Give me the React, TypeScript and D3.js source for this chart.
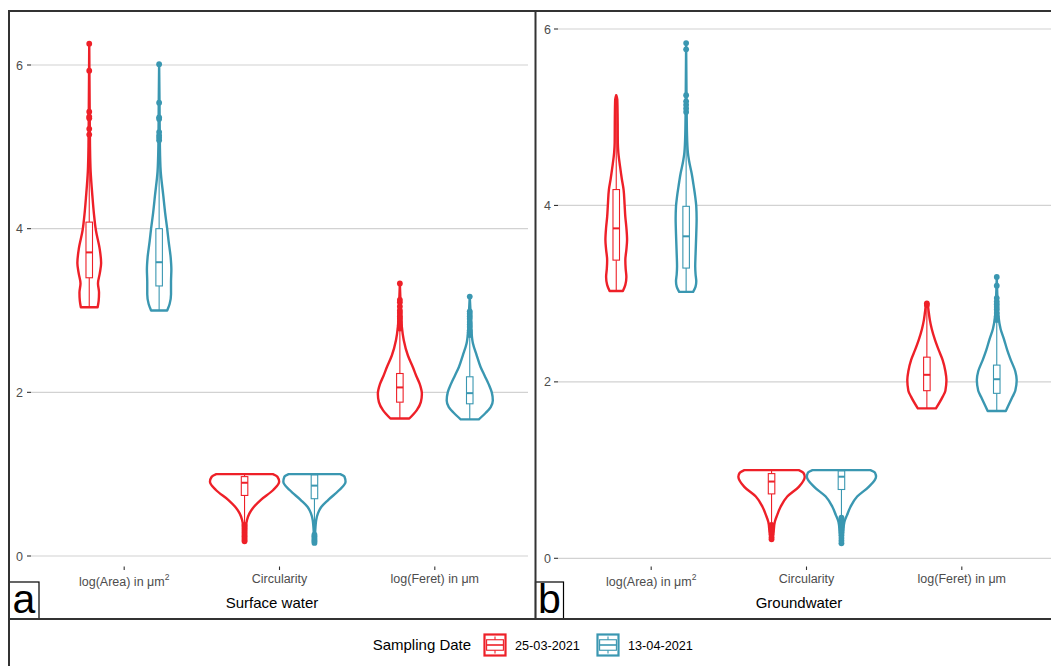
import React from "react";
import * as d3 from "d3";

// ---------- data ----------
const panelTitles = ["Surface water", "Groundwater"];
const panelLetters = ["a", "b"];
const categories = ["area", "circularity", "feret"];
const categoryLabels = ["log(Area) in μm", "Circularity", "log(Feret) in μm"];
const categorySup = ["2", "", ""];
const dateLabels = ["25-03-2021", "13-04-2021"];
const dateColors = ["#EE2028", "#3A97B1"];
const yTickValues = [0, 2, 4, 6];
const legendTitle = "Sampling Date";

// violin profiles: [value, relative half-width]
const swAreaRed: [number, number][] = [[3.04, .24], [3.12, .27], [3.22, .28], [3.33, .25], [3.45, .30], [3.58, .34], [3.75, .30], [3.98, .19], [4.2, .13], [4.4, .09], [4.7, .04], [5.0, .022], [5.5, .012], [6.26, 0]];
const swAreaTeal: [number, number][] = [[3.0, .23], [3.08, .30], [3.2, .34], [3.35, .34], [3.5, .35], [3.65, .33], [3.85, .27], [4.0, .23], [4.2, .17], [4.4, .12], [4.7, .045], [5.0, .022], [5.5, .012], [6.01, 0]];
const swCircRed: [number, number][] = [[0.175, .014], [0.25, .034], [0.358, .04], [0.44, .07], [0.521, .14], [0.602, .27], [0.684, .46], [0.806, .82], [0.907, .99], [0.968, .94], [1.0, .81]];
const swCircTeal: [number, number][] = [[0.16, .01], [0.358, .03], [0.44, .05], [0.521, .10], [0.602, .20], [0.684, .39], [0.806, .71], [0.907, .89], [0.968, .86], [1.0, .74]];
const swFeretRed: [number, number][] = [[1.68, .27], [1.78, .48], [1.88, .60], [1.98, .63], [2.1, .57], [2.2, .47], [2.31, .37], [2.45, .23], [2.64, .11], [2.8, .057], [3.0, .03], [3.33, 0]];
const swFeretTeal: [number, number][] = [[1.67, .26], [1.75, .46], [1.82, .60], [1.9, .66], [2.0, .63], [2.1, .54], [2.2, .43], [2.31, .31], [2.45, .20], [2.6, .09], [2.8, .04], [3.0, .02], [3.17, 0]];

const gwAreaRed: [number, number][] = [[3.03, .19], [3.1, .26], [3.19, .29], [3.28, .27], [3.38, .26], [3.5, .29], [3.61, .31], [3.75, .29], [3.87, .26], [4.0, .24], [4.18, .21], [4.3, .16], [4.44, .11], [4.6, .06], [4.71, .045], [5.0, .04], [5.2, .03], [5.25, 0]];
const gwAreaTeal: [number, number][] = [[3.02, .20], [3.08, .27], [3.14, .29], [3.22, .27], [3.31, .26], [3.45, .27], [3.68, .29], [3.85, .30], [3.99, .29], [4.1, .26], [4.21, .22], [4.36, .16], [4.5, .086], [4.6, .05], [4.8, .025], [5.2, .012], [5.84, 0]];
const gwCircRed: [number, number][] = [[0.215, .023], [0.3, .057], [0.415, .094], [0.49, .16], [0.585, .26], [0.70, .45], [0.81, .78], [0.925, .95], [0.97, .91], [1.0, .78]];
const gwCircTeal: [number, number][] = [[0.17, .014], [0.3, .05], [0.415, .086], [0.49, .16], [0.585, .26], [0.70, .45], [0.81, .78], [0.925, .99], [0.97, .96], [1.0, .83]];
const gwFeretRed: [number, number][] = [[1.70, .26], [1.83, .45], [1.9, .53], [2.02, .56], [2.12, .53], [2.25, .45], [2.36, .34], [2.48, .23], [2.6, .14], [2.70, .086], [2.8, .05], [2.88, .02], [2.89, 0]];
const gwFeretTeal: [number, number][] = [[1.67, .26], [1.83, .45], [1.9, .53], [2.02, .57], [2.12, .53], [2.25, .40], [2.36, .30], [2.48, .21], [2.6, .11], [2.74, .05], [2.95, .02], [3.19, 0]];

// boxplot stats: [lower whisker, q1, median, q3, upper whisker]
// order: area red, area teal, circ red, circ teal, feret red, feret teal
const swBoxes = [
  [3.04, 3.40, 3.71, 4.08, 5.10],
  [3.00, 3.30, 3.59, 4.00, 5.04],
  [0.40, 0.74, 0.895, 0.97, 1.0],
  [0.27, 0.70, 0.86, 0.99, 1.0],
  [1.68, 1.88, 2.06, 2.23, 2.75],
  [1.67, 1.86, 1.99, 2.19, 2.68],
];
const gwBoxes = [
  [3.03, 3.38, 3.74, 4.18, 5.25],
  [3.02, 3.29, 3.65, 3.99, 5.03],
  [0.39, 0.73, 0.87, 0.96, 1.0],
  [0.47, 0.78, 0.925, 0.99, 1.0],
  [1.70, 1.90, 2.08, 2.28, 2.85],
  [1.67, 1.87, 2.03, 2.19, 2.67],
];

const swOutliers = [
  [5.15, 5.22, 5.35, 5.37, 5.43, 5.93, 6.26],
  [5.08, 5.11, 5.14, 5.18, 5.34, 5.36, 5.54, 6.01],
  [0.18, 0.2, 0.22, 0.24, 0.26, 0.28, 0.3, 0.32, 0.34, 0.36, 0.38],
  [0.16, 0.18, 0.2, 0.22, 0.24, 0.26],
  [2.78, 2.82, 2.86, 2.9, 2.93, 2.97, 3.0, 3.05, 3.1, 3.13, 3.33],
  [2.7, 2.73, 2.76, 2.8, 2.83, 2.86, 2.9, 2.93, 2.96, 2.99, 3.17],
];
const gwOutliers = [
  [],
  [5.06, 5.1, 5.14, 5.18, 5.25, 5.77, 5.84],
  [0.215, 0.24, 0.27, 0.3, 0.33, 0.36, 0.38],
  [0.17, 0.2, 0.23, 0.26, 0.29, 0.32, 0.35, 0.38, 0.41, 0.44, 0.46],
  [2.87, 2.89],
  [2.7, 2.74, 2.78, 2.82, 2.85, 2.88, 2.91, 2.95, 3.09, 3.19],
];

const swProfiles = [swAreaRed, swAreaTeal, swCircRed, swCircTeal, swFeretRed, swFeretTeal];
const gwProfiles = [gwAreaRed, gwAreaTeal, gwCircRed, gwCircTeal, gwFeretRed, gwFeretTeal];

// ---------- layout ----------
const W = 1051;
const H = 666;
const FONT = "'Liberation Sans', Arial, Helvetica, sans-serif";
const layout = [
  { x0: 31, x1: 528, gridEnd: 528, yZero: 556, ySix: 65, tickLabelX: 23, titleX: 272, letterX: 24, boxX: 9, boxW: 30 },
  { x0: 558, x1: 1055, gridEnd: 1051, yZero: 558.3, ySix: 29, tickLabelX: 551, titleX: 799, letterX: 549.5, boxX: 535.5, boxW: 28 },
];

export default function App() {
  const panels = [
    { profiles: swProfiles, boxes: swBoxes, outliers: swOutliers },
    { profiles: gwProfiles, boxes: gwBoxes, outliers: gwOutliers },
  ];

  return (
    <svg
      width={W}
      height={H}
      style={{ position: "absolute", left: 0, top: 0, background: "#fff" }}
      fontFamily={FONT}
    >
      <rect x={0} y={0} width={W} height={H} fill="#fff" />
      {panels.map((pd, pi) => {
        const L = layout[pi];
        const x = d3.scalePoint<string>().domain(categories).range([L.x0, L.x1]).padding(0.6);
        const y = d3.scaleLinear().domain([0, 6]).range([L.yZero, L.ySix]);
        const step = x.step();
        const hwMax = 0.225 * step;
        const boxHW = 0.021 * step;
        return (
          <g key={pi}>
            {yTickValues.map((v) => (
              <g key={v}>
                <line x1={L.x0} x2={L.gridEnd} y1={y(v)} y2={y(v)} stroke="#d2d2d2" strokeWidth={1.2} />
                <line x1={L.x0 - 4} x2={L.x0} y1={y(v)} y2={y(v)} stroke="#333" strokeWidth={1.1} />
                <text x={L.tickLabelX} y={y(v) + 4.5} textAnchor="end" fontSize={12.5} fill="#4d4d4d">
                  {v}
                </text>
              </g>
            ))}
            {categories.map((c, ci) => (
              <g key={c}>
                <line x1={x(c)!} x2={x(c)!} y1={566.5} y2={570} stroke="#333" strokeWidth={1.1} />
                <text
                  x={x(c)!}
                  y={categorySup[ci] ? 585.5 : 582.8}
                  textAnchor="middle"
                  fontSize={12.5}
                  fill="#4d4d4d"
                >
                  {categoryLabels[ci]}
                  {categorySup[ci] ? (
                    <tspan fontSize={8.5} dy={-6}>
                      {categorySup[ci]}
                    </tspan>
                  ) : null}
                </text>
              </g>
            ))}
            {pd.profiles.map((prof, i) => {
              const ci = Math.floor(i / 2);
              const di = i % 2;
              const cx = x(categories[ci])! + (di - 0.5) * 0.45 * step;
              const col = dateColors[di];
              const area = d3
                .area<[number, number]>()
                .y((d) => y(d[0]))
                .x0((d) => cx - d[1] * hwMax)
                .x1((d) => cx + d[1] * hwMax)
                .curve(d3.curveMonotoneY);
              const b = pd.boxes[i];
              return (
                <g key={i}>
                  <path d={area(prof) || ""} fill="#fff" stroke={col} strokeWidth={2.4} strokeLinejoin="round" />
                  <line x1={cx} x2={cx} y1={y(b[0])} y2={y(b[1])} stroke={col} strokeWidth={1.1} />
                  <line x1={cx} x2={cx} y1={y(b[3])} y2={y(b[4])} stroke={col} strokeWidth={1.1} />
                  <rect
                    x={cx - boxHW}
                    y={y(b[3])}
                    width={2 * boxHW}
                    height={y(b[1]) - y(b[3])}
                    fill="#fff"
                    stroke={col}
                    strokeWidth={1.1}
                  />
                  <line x1={cx - boxHW} x2={cx + boxHW} y1={y(b[2])} y2={y(b[2])} stroke={col} strokeWidth={2} />
                  {pd.outliers[i].map((o, oi) => (
                    <circle key={oi} cx={cx} cy={y(o)} r={2.9} fill={col} />
                  ))}
                </g>
              );
            })}
            <text x={L.titleX} y={608} textAnchor="middle" fontSize={15} fill="#000">
              {panelTitles[pi]}
            </text>
            <rect x={L.boxX} y={582} width={L.boxW} height={37} fill="none" stroke="#000" strokeWidth={1.2} />
            <text x={L.letterX} y={613} textAnchor="middle" fontSize={41} fill="#000">
              {panelLetters[pi]}
            </text>
          </g>
        );
      })}

      <line x1={8} x2={W} y1={11} y2={11} stroke="#333" strokeWidth={2} />
      <line x1={9} x2={9} y1={10} y2={H} stroke="#333" strokeWidth={2} />
      <line x1={535.5} x2={535.5} y1={10} y2={619} stroke="#333" strokeWidth={2} />
      <line x1={8} x2={W} y1={619} y2={619} stroke="#333" strokeWidth={2} />

      <text x={372.7} y={650} fontSize={15} fill="#000">
        {legendTitle}
      </text>
      {dateLabels.map((lab, di) => {
        const kx = di === 0 ? 484.5 : 597.5;
        const ky = 634.5;
        const k = 21;
        const col = dateColors[di];
        return (
          <g key={lab}>
            <rect x={kx} y={ky} width={k} height={k} fill="#fff" stroke={col} strokeWidth={2.2} />
            <line x1={kx + k / 2} x2={kx + k / 2} y1={ky + 0.1 * k} y2={ky + 0.25 * k} stroke={col} strokeWidth={1.1} />
            <line x1={kx + k / 2} x2={kx + k / 2} y1={ky + 0.75 * k} y2={ky + 0.9 * k} stroke={col} strokeWidth={1.1} />
            <rect x={kx + 0.1 * k} y={ky + 0.25 * k} width={0.8 * k} height={0.5 * k} fill="none" stroke={col} strokeWidth={1.1} />
            <line x1={kx + 0.1 * k} x2={kx + 0.9 * k} y1={ky + 0.5 * k} y2={ky + 0.5 * k} stroke={col} strokeWidth={1.6} />
            <text x={di === 0 ? 515 : 628} y={650} fontSize={12.7} fill="#000">
              {lab}
            </text>
          </g>
        );
      })}
    </svg>
  );
}
